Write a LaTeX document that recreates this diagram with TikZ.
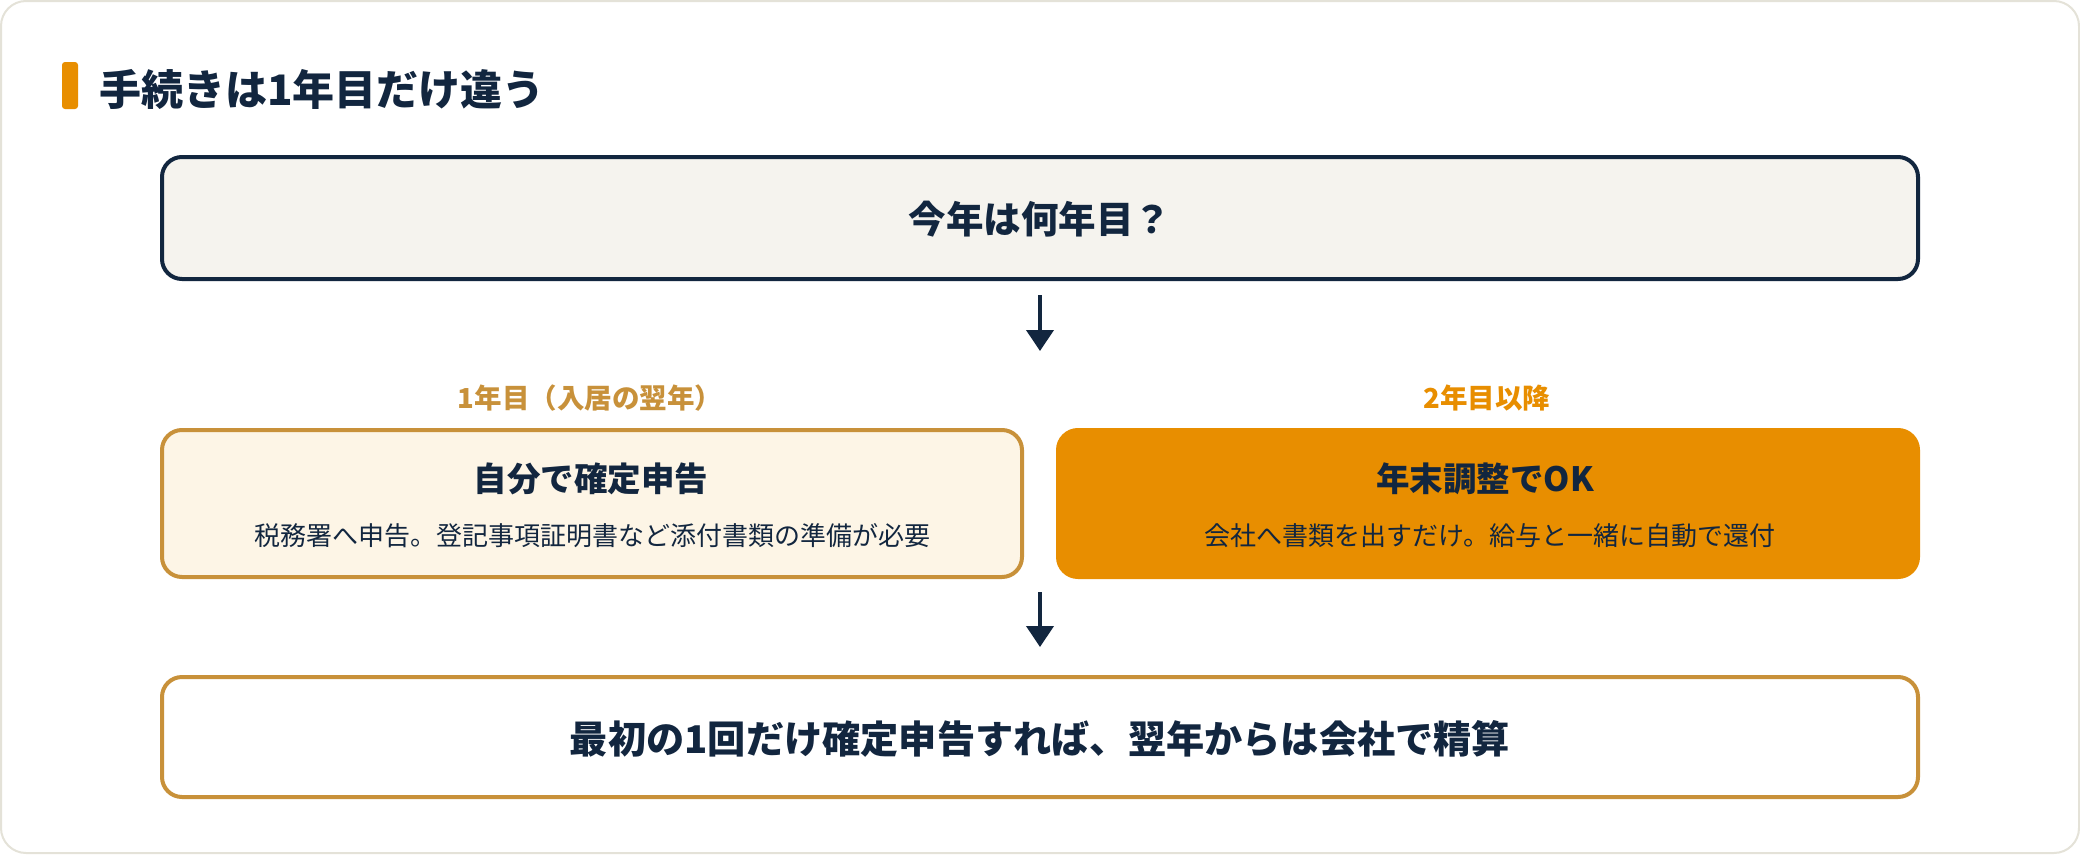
\documentclass[tikz,border=0pt]{standalone}
\usepackage{fontspec}
\setmainfont{Noto Sans CJK JP}
\usetikzlibrary{arrows.meta}
\definecolor{marine}{HTML}{12263F}
\definecolor{orangevif}{HTML}{E88E00}
\definecolor{ocre}{HTML}{C8913A}
\definecolor{creme}{HTML}{FDF5E6}
\definecolor{grisclair}{HTML}{F5F3EE}
\definecolor{cadre}{HTML}{E4E2D8}

\begin{document}
\begin{tikzpicture}[x=1pt,y=-1pt]
\tikzset{boite/.style={draw, rounded corners=20pt, line width=4pt, inner sep=0pt},
  gros/.style={font=\fontsize{37.5}{45}\selectfont\bfseries, text=marine, inner sep=0pt},
  moyen/.style={font=\fontsize{33.5}{40}\selectfont\bfseries, text=marine, inner sep=0pt},
  petit/.style={font=\fontsize{26}{31}\selectfont, text=marine, inner sep=0pt},
  etiq/.style={font=\fontsize{27.5}{33}\selectfont\bfseries, inner sep=0pt},
  fleche/.style={draw=marine, line width=4pt, -{Triangle[length=21pt,width=27pt]}}}
\useasboundingbox (0,0) rectangle (2080,854);
\draw[cadre, fill=white, line width=2pt, rounded corners=25pt] (1,1) rectangle (2079,853);
\fill[orangevif, rounded corners=3pt] (62,62) rectangle (78,109);
\node[anchor=west, font=\fontsize{42}{50}\selectfont\bfseries, text=marine, inner sep=0pt] (T) at (99,89) {手続きは1年目だけ違う};
\node[boite, draw=marine, fill=grisclair, minimum width=1756pt, minimum height=122pt] (Q) at (1040,218) {};
\node[gros] (Qt) at (1040,219) {今年は何年目？};
\coordinate (F1) at (1040,351);
\draw[fleche, shorten <=14pt] (Q.south) -- (F1);
\node[etiq, text=ocre] (E1) at (590,398) {1年目（入居の翌年）};
\node[etiq, text=orangevif] (E2) at (1487,398) {2年目以降};
\node[boite, draw=ocre, fill=creme, minimum width=860pt, minimum height=147pt] (B1) at (592,503.5) {};
\node[boite, draw=orangevif, fill=orangevif, minimum width=860pt, minimum height=147pt] (B2) at (1488,503.5) {};
\node[moyen] (H1) at (591,479) {自分で確定申告};
\node[petit] (S1) at (592,536) {税務署へ申告。登記事項証明書など添付書類の準備が必要};
\node[moyen] (H2) at (1485,479) {年末調整でOK};
\node[petit] (S2) at (1490,536) {会社へ書類を出すだけ。給与と一緒に自動で還付};
\node[boite, draw=ocre, fill=white, minimum width=1756pt, minimum height=120pt] (R) at (1040,737) {};
\node[gros, font=\fontsize{38.2}{46}\selectfont\bfseries] (Rt) at (1040,739) {最初の1回だけ確定申告すれば、翌年からは会社で精算};
\coordinate (F2) at (1040,592);
\draw[fleche, shorten >=28pt] (F2) -- (R.north);
\end{tikzpicture}
\end{document}
